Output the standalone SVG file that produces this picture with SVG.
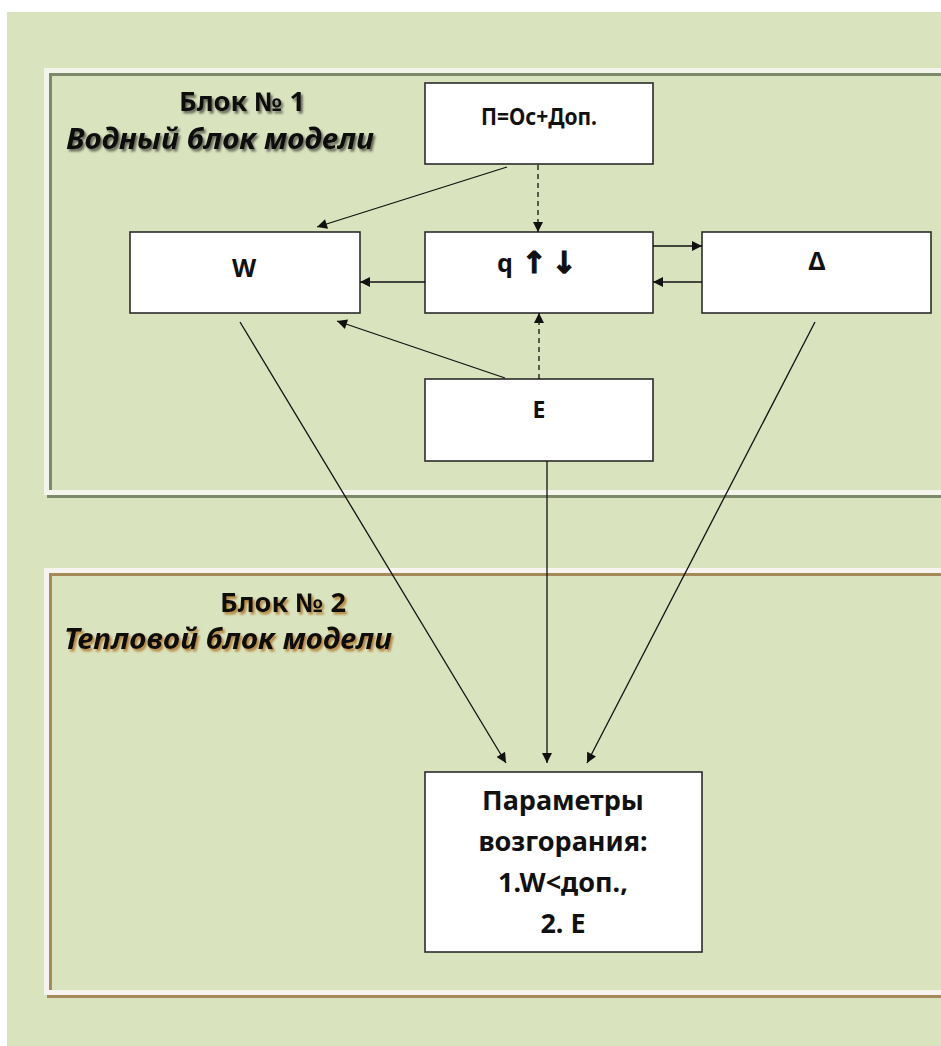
<svg xmlns="http://www.w3.org/2000/svg" width="941" height="1046" viewBox="0 0 941 1046">
<defs>
<style>
.box{fill:#ffffff;stroke:#2b2b2b;stroke-width:1.6}
.bt{font-family:"Noto Sans","Liberation Sans",sans-serif;font-weight:bold;fill:#111;text-anchor:middle}
.hd{font-family:"Noto Sans","Liberation Sans",sans-serif;font-weight:bold;fill:#111;text-anchor:middle;font-size:26px}
.it{font-style:italic;font-size:28px}
.ar{font-family:"DejaVu Sans",sans-serif;font-weight:bold;fill:#111;stroke:#111;stroke-width:1.2;text-anchor:middle;font-size:30px}
.ln{stroke:#111;stroke-width:1.3;fill:none}
.dash{stroke-dasharray:5,4}
</style>
<marker id="ah" viewBox="0 0 10 10" refX="10" refY="5" markerWidth="12" markerHeight="10" markerUnits="userSpaceOnUse" orient="auto">
<path d="M0,0 L10,5 L0,10 z" fill="#111"/>
</marker>
<filter id="sh1" x="-10%" y="-30%" width="120%" height="160%">
<feDropShadow dx="2" dy="2.5" stdDeviation="1.2" flood-color="#4a4a40" flood-opacity="0.8"/>
</filter>
<filter id="sh2" x="-10%" y="-30%" width="120%" height="160%">
<feDropShadow dx="2" dy="2.5" stdDeviation="1.2" flood-color="#b07a30" flood-opacity="0.9"/>
</filter>
<filter id="blur" x="-5%" y="-5%" width="110%" height="110%">
<feGaussianBlur stdDeviation="0.6"/>
</filter>
</defs>
<rect x="0" y="0" width="941" height="1046" fill="#ffffff"/>
<rect x="7" y="12" width="934" height="1034" fill="#d9e4bf"/>

<g id="block1">
<rect x="49.5" y="73.5" width="920" height="422" fill="none" stroke="#7d8a6a" stroke-width="5" filter="url(#blur)"/>
<rect x="46.5" y="70.5" width="920" height="422" fill="none" stroke="#f3f5ec" stroke-width="5"/>
<g filter="url(#sh1)">
<text class="hd" x="242" y="111" textLength="126" lengthAdjust="spacingAndGlyphs">Блок № 1</text>
<text class="hd it" x="220" y="149" textLength="308" lengthAdjust="spacingAndGlyphs">Водный блок модели</text>
</g>
</g>

<g id="block2">
<rect x="49.5" y="573.5" width="920" height="422" fill="none" stroke="#a38a58" stroke-width="5" filter="url(#blur)"/>
<rect x="46.5" y="570.5" width="920" height="422" fill="none" stroke="#f7f3ee" stroke-width="5"/>
<g filter="url(#sh2)">
<text class="hd" x="283" y="612" textLength="126" lengthAdjust="spacingAndGlyphs">Блок № 2</text>
<text class="hd it" x="228" y="649" textLength="328" lengthAdjust="spacingAndGlyphs">Тепловой блок модели</text>
</g>
</g>

<g id="node-p">
<rect class="box" x="425" y="83" width="228" height="81"/>
<text class="bt" x="539" y="125" font-size="24" textLength="116" lengthAdjust="spacingAndGlyphs">П=Ос+Доп.</text>
</g>
<g id="node-w">
<rect class="box" x="130" y="232" width="230" height="81"/>
<text class="bt" x="244" y="277" font-size="25">W</text>
</g>
<g id="node-q">
<rect class="box" x="425" y="232" width="228" height="81"/>
<text class="bt" x="505" y="272" font-size="25">q</text>
<text class="ar" x="534" y="273">↑</text>
<text class="ar" x="564" y="273">↓</text>
</g>
<g id="node-delta">
<rect class="box" x="702" y="232" width="229" height="81"/>
<text class="bt" x="817" y="270" font-size="25">Δ</text>
</g>
<g id="node-e">
<rect class="box" x="425" y="379" width="228" height="82"/>
<text class="bt" x="539" y="418" font-size="23">E</text>
</g>
<g id="node-params">
<rect class="box" x="425" y="772" width="277" height="180"/>
<text class="bt" x="563" y="810" font-size="27">Параметры</text>
<text class="bt" x="563" y="851" font-size="27">возгорания:</text>
<text class="bt" x="563" y="892" font-size="27">1.W&lt;доп.,</text>
<text class="bt" x="563" y="933" font-size="27">2. E</text>
</g>

<g id="connectors">
<line class="ln" x1="507" y1="167" x2="317" y2="227" marker-end="url(#ah)"/>
<line class="ln dash" x1="538" y1="165" x2="538" y2="232" marker-end="url(#ah)"/>
<line class="ln" x1="425" y1="282" x2="360" y2="282" marker-end="url(#ah)"/>
<line class="ln" x1="653" y1="246" x2="702" y2="246" marker-end="url(#ah)"/>
<line class="ln" x1="702" y1="282" x2="653" y2="282" marker-end="url(#ah)"/>
<line class="ln dash" x1="539" y1="379" x2="539" y2="313" marker-end="url(#ah)"/>
<line class="ln" x1="505" y1="378" x2="337" y2="321" marker-end="url(#ah)"/>
<line class="ln" x1="240" y1="322" x2="506" y2="763" marker-end="url(#ah)"/>
<line class="ln" x1="547" y1="461" x2="547" y2="763" marker-end="url(#ah)"/>
<line class="ln" x1="815" y1="322" x2="587" y2="763" marker-end="url(#ah)"/>
</g>
</svg>
